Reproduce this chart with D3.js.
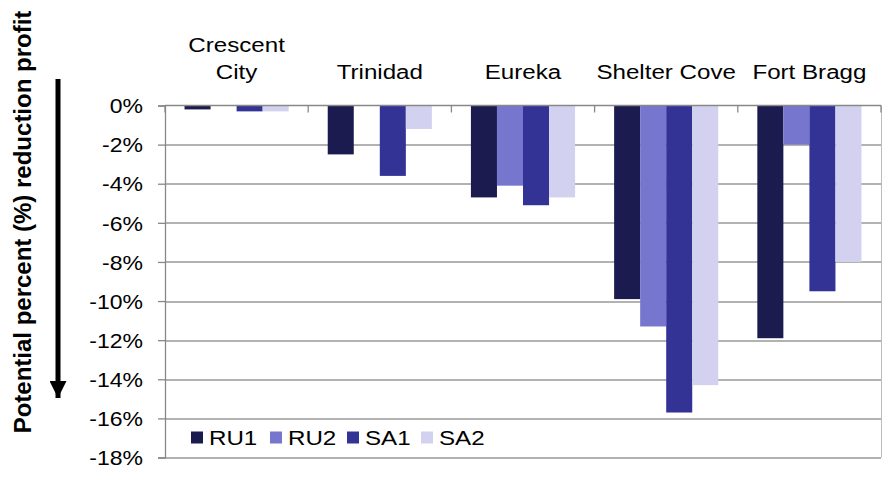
<!DOCTYPE html>
<html>
<head>
<meta charset="utf-8">
<script src="https://cdn.jsdelivr.net/npm/d3@7"></script>
<style>
  body { margin: 0; background: #fff; }
  text { font-family: "Liberation Sans", Arial, sans-serif; fill: #000; }
</style>
</head>
<body>
<div id="chart"></div>
<script>
// data
var categories = ["Crescent City", "Trinidad", "Eureka", "Shelter Cove", "Fort Bragg"]
var seriesNames = ["RU1", "RU2", "SA1", "SA2"]
var ru1 = [-0.2, -2.5, -4.7, -9.9, -11.9]
var ru2 = [null, null, -4.1, -11.3, -2.0]
var sa1 = [-0.3, -3.6, -5.1, -15.7, -9.5]
var sa2 = [-0.3, -1.2, -4.7, -14.3, -8.0]
var yTicks = [0, -2, -4, -6, -8, -10, -12, -14, -16, -18]
var colors = ["#1b1b4f", "#7676cf", "#333396", "#d2d2f0"]

var seriesValues = [ru1, ru2, sa1, sa2]

var width = 883, height = 477
var margin = {top: 105.5, right: 2, bottom: 19.5, left: 165}
var innerW = width - margin.left - margin.right
var innerH = height - margin.top - margin.bottom

// the source picture looks stretched sideways, so widen the horizontal text a bit
var stretchX = 1.15
function stretch(sel) {
  sel.each(function() {
    var t = d3.select(this)
    var x = +t.attr("x") || 0
    t.attr("transform", "translate(" + x + ",0) scale(" + stretchX + ",1) translate(" + (-x) + ",0)")
  })
}

var svg = d3.select("#chart").append("svg")
  .attr("width", width)
  .attr("height", height)

var g = svg.append("g")
  .attr("transform", "translate(" + margin.left + "," + margin.top + ")")

var y = d3.scaleLinear().domain([0, -18]).range([0, innerH])
var x0 = d3.scaleBand().domain(categories).range([0, innerW])
// bars ~26px, 4 per group, ~20px outer gap each side
var x1 = d3.scaleBand().domain(seriesNames)
  .range([0, x0.bandwidth()])
  .paddingOuter(0.75)
  .paddingInner(0)

// gridlines
g.selectAll(".grid")
  .data(yTicks.filter(function(d) { return d !== 0 }))
  .enter().append("line")
  .attr("x1", 0).attr("x2", innerW)
  .attr("y1", function(d) { return Math.round(y(d)) + 0.5 })
  .attr("y2", function(d) { return Math.round(y(d)) + 0.5 })
  .attr("stroke", "#999")
  .attr("stroke-width", 1.3)

// right border of plot area
g.append("line")
  .attr("x1", innerW + 0.5).attr("x2", innerW + 0.5)
  .attr("y1", 0).attr("y2", innerH)
  .attr("stroke", "#bbb")

// bars
categories.forEach(function(cat, ci) {
  seriesNames.forEach(function(s, si) {
    var v = seriesValues[si][ci]
    if (v === null) return
    g.append("rect")
      .attr("x", x0(cat) + x1(s))
      .attr("y", y(0))
      .attr("width", x1.bandwidth())
      .attr("height", y(v) - y(0))
      .attr("fill", colors[si])
  })
})

// y axis
var yAxis = g.append("g")
  .call(d3.axisLeft(y).tickValues(yTicks).tickSize(7).tickPadding(15)
    .tickFormat(function(d) { return d + "%" }))
yAxis.select(".domain").attr("stroke", "#888").attr("stroke-width", 1.3)
yAxis.selectAll(".tick line").attr("stroke", "#888").attr("stroke-width", 1.3)
yAxis.selectAll(".tick text")
  .style("font-size", "20px")
  .attr("dy", "0.36em")
  .call(stretch)

// category axis along 0, ticks pointing down
g.append("line")
  .attr("x1", 0).attr("x2", innerW)
  .attr("y1", y(0)).attr("y2", y(0))
  .attr("stroke", "#888").attr("stroke-width", 1.3)
var sep = categories.map(function(c) { return x0(c) }).concat([innerW])
g.selectAll(".sep")
  .data(sep)
  .enter().append("line")
  .attr("x1", function(d) { return d }).attr("x2", function(d) { return d })
  .attr("y1", y(0)).attr("y2", y(0) + 7)
  .attr("stroke", "#888").attr("stroke-width", 1.3)

// category labels above the plot
categories.forEach(function(cat) {
  var cx = x0(cat) + x0.bandwidth() / 2
  var lines = cat === "Crescent City" ? ["Crescent", "City"] : [cat]
  lines.forEach(function(t, i) {
    g.append("text")
      .attr("x", cx)
      .attr("y", -27 - (lines.length - 1 - i) * 27)
      .attr("text-anchor", "middle")
      .style("font-size", "21px")
      .text(t)
      .call(stretch)
  })
})

// legend inside plot, bottom left
var legend = g.append("g")
  .attr("transform", "translate(0," + (innerH - 20) + ")")
var legendX = [26, 105, 182, 256]
seriesNames.forEach(function(s, i) {
  legend.append("rect")
    .attr("x", legendX[i]).attr("y", -6)
    .attr("width", 12).attr("height", 12)
    .attr("fill", colors[i])
  legend.append("text")
    .attr("x", legendX[i] + 18).attr("y", 0)
    .attr("dy", "0.36em")
    .style("font-size", "21px")
    .text(s)
    .call(stretch)
})

// y axis title, rotated (kept just inside the top edge)
svg.append("text")
  .attr("transform", "translate(31,222) rotate(-90)")
  .attr("text-anchor", "middle")
  .style("font-size", "24px")
  .style("font-weight", "bold")
  .text("Potential percent (%) reduction profit")

// downward arrow next to the title
svg.append("defs").append("marker")
  .attr("id", "arrowhead")
  .attr("viewBox", "0 0 10 10")
  .attr("refX", 10).attr("refY", 5)
  .attr("markerWidth", 3.6).attr("markerHeight", 3.4)
  .attr("markerUnits", "strokeWidth")
  .attr("orient", "auto")
  .append("path")
  .attr("d", "M0,0 L10,5 L0,10 Z")
  .attr("fill", "#000")

svg.append("line")
  .attr("x1", 58).attr("x2", 58)
  .attr("y1", 79).attr("y2", 398)
  .attr("stroke", "#000")
  .attr("stroke-width", 5)
  .attr("marker-end", "url(#arrowhead)")
</script>
</body>
</html>
